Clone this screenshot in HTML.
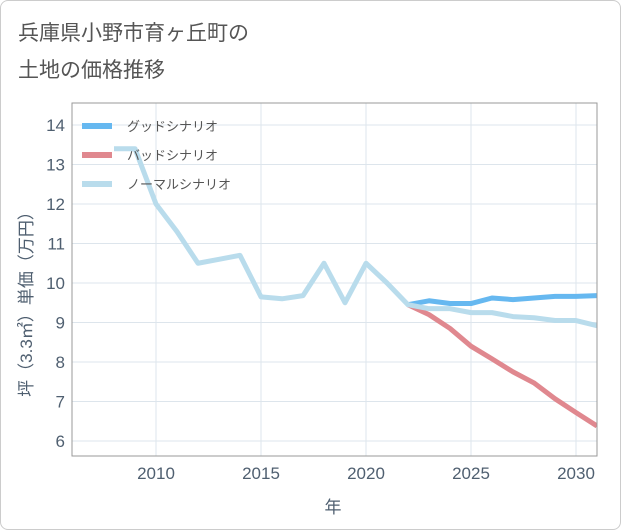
<!DOCTYPE html>
<html><head><meta charset="utf-8"><style>
body{margin:0;background:#fff;font-family:"Liberation Sans","Noto Sans CJK JP",sans-serif}
#card{position:absolute;left:0;top:0;width:619px;height:528px;border:1px solid #ccc;border-radius:8px;background:#fff}
</style></head><body>
<div id="card">
<svg id="svg" width="621" height="530" style="position:absolute;left:-1px;top:-1px">
<text x="18" y="40" font-size="21" fill="#555">兵庫県小野市育ヶ丘町の</text>
<text x="18" y="77" font-size="21" fill="#555">土地の価格推移</text>
<g id="grid"></g><g id="series"></g><g id="axes"></g>
</svg></div>
<script>
const years=[2008,2009,2010,2011,2012,2013,2014,2015,2016,2017,2018,2019,2020,2021,2022,2023,2024,2025,2026,2027,2028,2029,2030,2031];
const normal=[13.4,13.4,12.0,11.3,10.5,10.6,10.7,9.65,9.6,9.68,10.5,9.5,10.5,10.0,9.45,9.35,9.35,9.25,9.25,9.15,9.12,9.05,9.05,8.92];
const fyears=[2022,2023,2024,2025,2026,2027,2028,2029,2030,2031];
const good=[9.45,9.55,9.48,9.48,9.62,9.58,9.62,9.66,9.66,9.68];
const bad=[9.45,9.2,8.85,8.4,8.08,7.75,7.47,7.07,6.72,6.38];
const xticks=[2010,2015,2020,2025,2030];
const yticks=[6,7,8,9,10,11,12,13,14];
const L=72,R=597,T=103,B=456;
const X=v=>L+(v-2006)*(R-L)/25;
const Y=v=>441-(v-6)*39.5;
const ns="http://www.w3.org/2000/svg";
const TC='#4f5f70';
function mk(p,t,a){const e=document.createElementNS(ns,t);for(const k in a)e.setAttribute(k,a[k]);p.appendChild(e);return e;}
const g=document.getElementById('grid'),s=document.getElementById('series'),ax=document.getElementById('axes');
xticks.forEach(v=>{const l=mk(g,'line',{x1:X(v),x2:X(v),y1:T,y2:B,stroke:'#dde5ec'});

const t=mk(ax,'text',{x:X(v),y:479,'text-anchor':'middle','font-size':17,fill:TC});t.textContent=v;
});
yticks.forEach(v=>{const l=mk(g,'line',{x1:L,x2:R,y1:Y(v),y2:Y(v),stroke:'#dde5ec'});

const t=mk(ax,'text',{x:65,y:Y(v)+6,'text-anchor':'end','font-size':17,fill:TC});t.textContent=v;
});
const fr=mk(ax,'rect',{x:L,y:T,width:R-L,height:B-T,fill:'none',stroke:'#999'});

const defs=mk(s,'clipPath',{id:'cp'});mk(defs,'rect',{x:L,y:T,width:R-L,height:B-T});
function line(xs,ys,c,name){const p=mk(s,'polyline',{points:xs.map((x,i)=>X(x)+','+Y(ys[i])).join(' '),fill:'none',stroke:c,'stroke-width':5,'stroke-linejoin':'round','clip-path':'url(#cp)'});
}
line(fyears,bad,'#e0888f','bad-scenario-line');
line(fyears,good,'#66b8f0','good-scenario-line');
line(years,normal,'#b9dcec','normal-scenario-line');
const leg=[['グッドシナリオ','#66b8f0'],['バッドシナリオ','#e0888f'],['ノーマルシナリオ','#b9dcec']];
leg.forEach((d,i)=>{const y=126+i*29;
const r=mk(ax,'line',{x1:82,x2:112,y1:y,y2:y,stroke:d[1],'stroke-width':6});

const t=mk(ax,'text',{x:127,y:y+5,'font-size':13,fill:'#555'});t.textContent=d[0];
});
const xt=mk(ax,'text',{x:333,y:513,'text-anchor':'middle','font-size':17,fill:TC});xt.textContent='年';

const yt=mk(ax,'text',{x:0,y:0,'text-anchor':'middle','font-size':17,fill:TC,transform:'translate(32,300) rotate(-90)'});yt.textContent='坪（3.3㎡）単価（万円）';

</script></body></html>
